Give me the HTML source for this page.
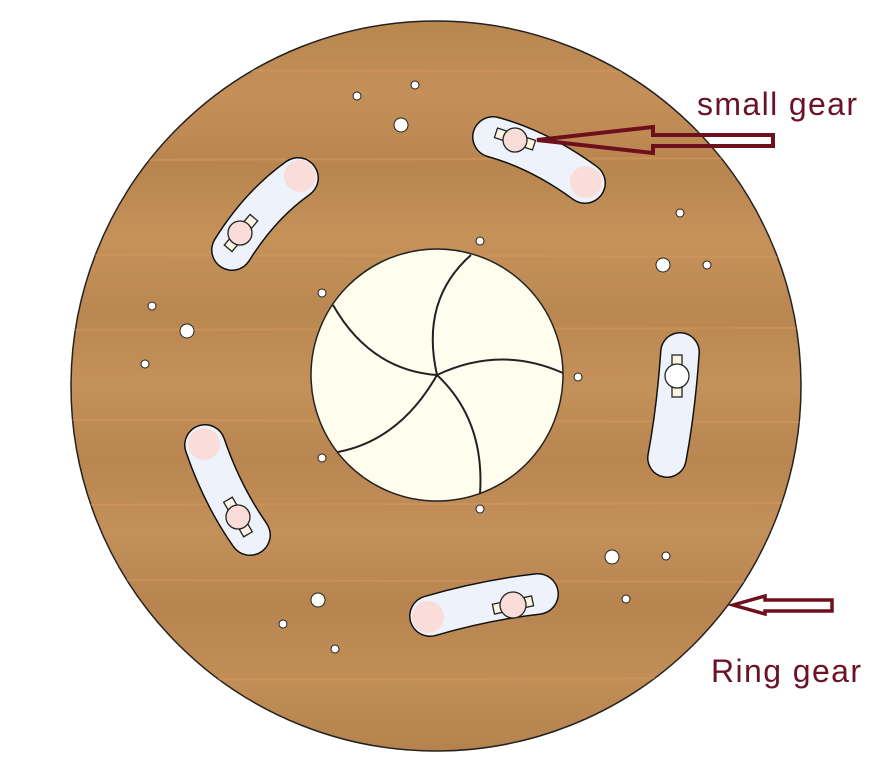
<!DOCTYPE html>
<html><head><meta charset="utf-8"><style>
html,body{margin:0;padding:0;background:#fff;width:873px;height:758px;overflow:hidden}
</style></head><body>
<svg width="873" height="758" viewBox="0 0 873 758" xmlns="http://www.w3.org/2000/svg">
<defs>
<linearGradient id="wood" x1="0" y1="0" x2="0" y2="1">
<stop offset="0" stop-color="#b98650"/><stop offset="0.1" stop-color="#c48f58"/>
<stop offset="0.2" stop-color="#b9854f"/><stop offset="0.3" stop-color="#c6925a"/>
<stop offset="0.4" stop-color="#bb8751"/><stop offset="0.5" stop-color="#c5915a"/>
<stop offset="0.6" stop-color="#b98550"/><stop offset="0.7" stop-color="#c4905a"/>
<stop offset="0.8" stop-color="#b7834f"/><stop offset="0.9" stop-color="#c28e57"/>
<stop offset="1" stop-color="#b5824e"/>
</linearGradient>
<clipPath id="disk"><circle cx="436" cy="386" r="365"/></clipPath>
</defs>
<circle cx="436" cy="386" r="365" fill="url(#wood)" stroke="#222" stroke-width="1.5"/>
<g clip-path="url(#disk)" stroke="#d59a5e" stroke-width="2" opacity="0.5">
<line x1="60" y1="70" x2="820" y2="72"/><line x1="60" y1="160" x2="820" y2="158"/>
<line x1="60" y1="255" x2="820" y2="257"/><line x1="60" y1="330" x2="820" y2="328"/>
<line x1="60" y1="420" x2="820" y2="422"/><line x1="60" y1="505" x2="820" y2="503"/>
<line x1="60" y1="580" x2="820" y2="582"/><line x1="60" y1="680" x2="820" y2="678"/>
</g>
<circle cx="437" cy="375" r="126" fill="#fefdee" stroke="#222" stroke-width="1.5"/>
<g fill="none" stroke="#222" stroke-width="2">
<path d="M437 375 Q370 370 333 305"/>
<path d="M437 375 Q420 300 471 255"/>
<path d="M437 375 Q500 345 563 373"/>
<path d="M437 375 Q485 420 480 494"/>
<path d="M437 375 Q400 440 338 452"/>
</g>
<g stroke-linecap="round" fill="none">
<path d="M493 137 Q540 150 585 183" stroke="#111" stroke-width="42"/>
<path d="M493 137 Q540 150 585 183" stroke="#eef3fb" stroke-width="39"/>
<path d="M298 178 Q260 205 232 250" stroke="#111" stroke-width="42"/>
<path d="M298 178 Q260 205 232 250" stroke="#eef3fb" stroke-width="39"/>
<path d="M680 352 Q676 410 667 458" stroke="#111" stroke-width="40"/>
<path d="M680 352 Q676 410 667 458" stroke="#eef3fb" stroke-width="37"/>
<path d="M430 616 Q485 600 538 594" stroke="#111" stroke-width="42"/>
<path d="M430 616 Q485 600 538 594" stroke="#eef3fb" stroke-width="39"/>
<path d="M205 445 Q222 495 250 535" stroke="#111" stroke-width="42"/>
<path d="M205 445 Q222 495 250 535" stroke="#eef3fb" stroke-width="39"/>
</g>
<g fill="#fadcd8">
<circle cx="586" cy="182" r="16"/><circle cx="300" cy="176" r="16"/>
<circle cx="428" cy="617" r="16"/><circle cx="204" cy="444" r="16"/>
</g>
<g stroke="#222" stroke-width="1.3">
<rect x="495" y="134" width="40" height="10" fill="#fbf4e4" transform="rotate(18 515 139)"/>
<circle cx="515" cy="140" r="12" fill="#fadcd8"/>
<rect x="221" y="228" width="40" height="10" fill="#fbf4e4" transform="rotate(-50 241 233)"/>
<circle cx="240" cy="233" r="12" fill="#fadcd8"/>
<rect x="672" y="355" width="10" height="42" fill="#fbf4e4"/>
<circle cx="677" cy="376" r="12" fill="#fff"/>
<rect x="493" y="600" width="40" height="10" fill="#fbf4e4" transform="rotate(-12 513 605)"/>
<circle cx="513" cy="605" r="13" fill="#fadcd8"/>
<rect x="218" y="512" width="40" height="10" fill="#fbf4e4" transform="rotate(60 238 517)"/>
<circle cx="238" cy="517" r="12" fill="#fadcd8"/>
</g>
<g fill="#fff" stroke="#222" stroke-width="1">
<circle cx="357" cy="96" r="4"/><circle cx="415" cy="85" r="4"/><circle cx="401" cy="125" r="7"/>
<circle cx="680" cy="213" r="4"/><circle cx="663" cy="265" r="7"/><circle cx="707" cy="265" r="4"/>
<circle cx="152" cy="306" r="4"/><circle cx="187" cy="331" r="7"/><circle cx="145" cy="364" r="4"/>
<circle cx="612" cy="557" r="7"/><circle cx="666" cy="556" r="4"/><circle cx="626" cy="599" r="4"/>
<circle cx="318" cy="600" r="7"/><circle cx="283" cy="624" r="4"/><circle cx="335" cy="649" r="4"/>
<circle cx="480" cy="241" r="4"/><circle cx="322" cy="293" r="4"/><circle cx="578" cy="377" r="4"/>
<circle cx="322" cy="458" r="4"/><circle cx="480" cy="509" r="4"/>
</g>
<path d="M537 140 L653 127 L653 135 L773 135 L773 146 L653 146 L653 153 Z" fill="none" stroke="#6e0f1c" stroke-width="4"/>
<path d="M733 605 L765 596 L765 600 L832 600 L832 611 L765 611 L765 614 Z" fill="none" stroke="#6e0f1c" stroke-width="3.5"/>
<text x="697" y="115" font-family="Liberation Sans, sans-serif" font-size="32" textLength="160" fill="#6b1228">small gear</text>
<text x="711" y="682" font-family="Liberation Sans, sans-serif" font-size="32" textLength="150" fill="#6b1228">Ring gear</text>
</svg>
</body></html>
